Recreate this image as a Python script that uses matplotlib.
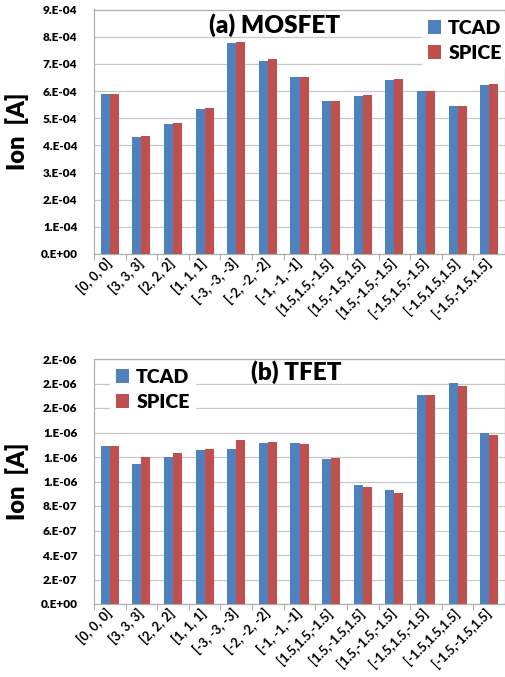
import numpy as np
import matplotlib
matplotlib.use('Agg')
import matplotlib.pyplot as plt
from matplotlib.ticker import FixedLocator

plt.rcParams['font.family'] = ['Lato', 'DejaVu Sans']

categories = ['[0, 0, 0]', '[3, 3, 3]', '[2, 2, 2]', '[1, 1, 1]', '[-3, -3, -3]',
              '[-2, -2, -2]', '[-1, -1, -1]', '[1.5,1.5,-1.5]', '[1.5,-1.5,1.5]',
              '[1.5,-1.5,-1.5]', '[-1.5,1.5,-1.5]', '[-1.5,1.5,1.5]', '[-1.5,-1.5,1.5]']

# (a) MOSFET, Ion [A]
mos_tcad = [5.90e-4, 4.31e-4, 4.80e-4, 5.34e-4, 7.78e-4, 7.10e-4, 6.50e-4,
            5.63e-4, 5.83e-4, 6.42e-4, 6.00e-4, 5.44e-4, 6.22e-4]
mos_spice = [5.90e-4, 4.34e-4, 4.83e-4, 5.36e-4, 7.82e-4, 7.16e-4, 6.52e-4,
             5.63e-4, 5.87e-4, 6.45e-4, 6.00e-4, 5.44e-4, 6.25e-4]
mos_ticks = [i * 1e-4 for i in range(10)]
mos_ticklabels = ['0.E+00', '1.E-04', '2.E-04', '3.E-04', '4.E-04', '5.E-04',
                  '6.E-04', '7.E-04', '8.E-04', '9.E-04']

# (b) TFET, Ion [A]
tfet_tcad = [1.293e-6, 1.143e-6, 1.203e-6, 1.260e-6, 1.269e-6, 1.312e-6, 1.312e-6,
             1.181e-6, 0.971e-6, 0.930e-6, 1.708e-6, 1.804e-6, 1.397e-6]
tfet_spice = [1.293e-6, 1.203e-6, 1.230e-6, 1.266e-6, 1.342e-6, 1.326e-6, 1.310e-6,
              1.190e-6, 0.952e-6, 0.903e-6, 1.703e-6, 1.782e-6, 1.381e-6]
tfet_ticks = [i * 2e-7 for i in range(11)]
tfet_ticklabels = ['0.E+00', '2.E-07', '4.E-07', '6.E-07', '8.E-07', '1.E-06',
                   '1.E-06', '1.E-06', '2.E-06', '2.E-06', '2.E-06']

BLUE = '#4F81BD'
RED = '#C0504D'
W, H = 506, 677
AX_L, AX_R = 94, 505


def draw(ax, top, bottom, tcad, spice, ticks, ticklabels, title, title_px, leg_px):
    x = np.arange(len(categories))
    bw = 0.285
    ax.bar(x - bw / 2, tcad, bw, color=BLUE, label='TCAD', zorder=3)
    ax.bar(x + bw / 2, spice, bw, color=RED, label='SPICE', zorder=3)
    ax.set_xlim(-0.5, len(categories) - 0.5)
    ax.set_ylim(ticks[0], ticks[-1])
    ax.set_yticks(ticks)
    ax.set_yticklabels(ticklabels, fontsize=8.5, fontweight='heavy')
    ax.tick_params(axis='y', length=0, pad=12)
    ax.grid(axis='y', color='#c8c8c8', lw=0.9, zorder=0)
    ax.set_xticks(x)
    ax.set_xticklabels(categories, rotation=45, ha='right', va='center',
                       rotation_mode='anchor', fontsize=9.3, fontweight='bold')
    ax.tick_params(axis='x', which='major', length=0, pad=5)
    ax.xaxis.set_minor_locator(FixedLocator(np.arange(-0.5, len(categories), 1.0)))
    ax.tick_params(axis='x', which='minor', length=4, color='#999999')
    for s in ax.spines.values():
        s.set_color('#b0b0b0')
        s.set_linewidth(0.9)
    ax.set_ylabel('Ion  [A]', fontsize=17, fontweight='heavy', labelpad=8)

    def to_axes(px, py):
        return (px - AX_L) / (AX_R - AX_L), (bottom - py) / (bottom - top)

    ax.text(*to_axes(*title_px), title, transform=ax.transAxes, fontsize=17.5,
            fontweight='heavy', ha='center', va='center', zorder=5)
    leg = ax.legend(loc='upper left', bbox_to_anchor=to_axes(*leg_px), fontsize=14,
                    frameon=True, fancybox=False, handlelength=0.7, handleheight=0.7,
                    handletextpad=0.35, labelspacing=0.4, borderpad=0.3,
                    borderaxespad=0)
    leg.get_frame().set_edgecolor('white')
    leg.get_frame().set_alpha(1)
    for t in leg.get_texts():
        t.set_fontweight('heavy')


fig = plt.figure(figsize=(W / 100, H / 100), dpi=100)
l, r = AX_L / W, AX_R / W
ax1 = fig.add_axes([l, 1 - 254 / H, r - l, (254 - 9.5) / H])
ax2 = fig.add_axes([l, 1 - 604 / H, r - l, (604 - 359) / H])

draw(ax1, 9.5, 254, mos_tcad, mos_spice, mos_ticks, mos_ticklabels,
     '(a) MOSFET', (275, 25), (422, 14))
draw(ax2, 359, 604, tfet_tcad, tfet_spice, tfet_ticks, tfet_ticklabels,
     '(b) TFET', (296, 372), (110, 363))

fig.savefig('out.png', dpi=100)
